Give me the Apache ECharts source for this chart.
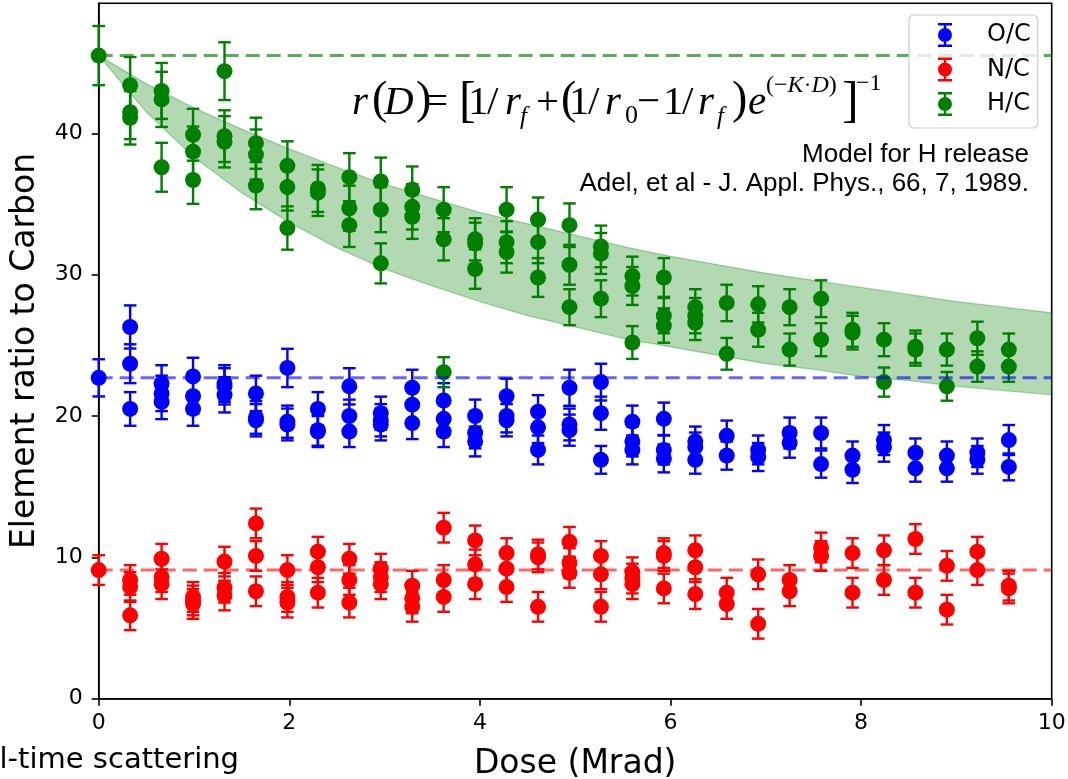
<!DOCTYPE html>
<html><head><meta charset="utf-8">
<script src="https://cdn.jsdelivr.net/npm/echarts@6/dist/echarts.min.js"></script>
<style>html,body{margin:0;padding:0;background:#fff}#c{width:1068px;height:779px}</style>
</head><body><div id="c"></div>
<script>
// ---- data ----
const doses = [0, 0.33, 0.66, 0.99, 1.32, 1.65, 1.98, 2.30, 2.63, 2.96, 3.29, 3.62, 3.95, 4.28, 4.61,
               4.94, 5.27, 5.60, 5.93, 6.26, 6.59, 6.92, 7.25, 7.58, 7.91, 8.24, 8.57, 8.90, 9.22, 9.55];

const ocValues = [
  [22.7], [26.3, 23.7, 20.5], [22.3, 21.6, 21.0], [22.8, 21.4, 20.5], [22.3, 22.1, 21.5],
  [21.6, 19.9, 19.7], [23.4, 19.6, 19.4], [20.5, 19.0, 18.9], [22.1, 20.0, 18.9], [20.2, 19.7, 19.4],
  [22.0, 20.8, 19.5], [21.1, 19.8, 18.9], [20.0, 18.8, 18.2], [21.4, 20.0, 19.7], [20.3, 19.2, 17.6],
  [22.0, 19.4, 19.0], [22.4, 20.2, 16.9], [19.6, 18.2, 17.6], [19.8, 17.6, 17.0], [18.2, 17.8, 16.9],
  [18.6, 17.2], [17.6, 17.1], [18.8, 18.1], [18.8, 16.6], [17.2, 16.2],
  [18.3, 17.8], [17.4, 16.3], [17.2, 16.3], [17.4, 16.9], [18.3, 16.4]
];
const ncValues = [
  [9.1], [8.4, 7.9, 5.9], [9.9, 8.6, 8.1], [7.2, 6.95, 6.7], [9.7, 7.85, 7.3],
  [12.4, 10.1, 7.6], [9.1, 7.2, 6.8], [10.4, 9.3, 7.5], [9.9, 8.4, 6.8], [9.2, 8.6, 8.1],
  [8.0, 7.1, 6.5], [12.1, 8.4, 7.2], [11.2, 9.5, 8.1], [10.3, 9.2, 7.9], [10.2, 10.0, 6.5],
  [11.1, 9.6, 8.9], [10.1, 8.8, 6.5], [8.95, 8.5, 8.1], [10.3, 10.1, 7.8], [10.5, 9.3, 7.4],
  [7.5, 6.7], [8.8, 5.3], [8.4, 7.6], [10.7, 10.1], [10.3, 7.5],
  [10.5, 8.4], [11.3, 7.5], [9.4, 6.3], [10.4, 9.1], [8.0, 7.8]
];
const hcValues = [
  [45.5], [43.4, 41.5, 41.1], [43.0, 42.4, 37.6], [39.9, 38.7, 36.7], [44.4, 39.8, 39.4],
  [39.3, 38.5, 36.3], [37.7, 36.2, 33.3], [36.1, 35.8], [36.9, 34.7, 33.5], [36.6, 34.6, 30.8],
  [36.0, 34.8, 34.1], [34.6, 32.5, 23.1], [32.5, 32.2, 30.4], [34.6, 32.3, 31.6], [33.9, 32.3, 29.8],
  [33.5, 30.7, 27.7], [32.0, 31.5, 28.3], [29.9, 29.2, 25.2], [29.8, 27.1, 26.4], [27.7, 27.1, 26.6],
  [28.0, 24.4], [27.9, 26.1], [27.7, 24.7], [28.3, 25.4], [26.1, 25.9],
  [25.4, 22.4], [24.9, 24.7], [24.7, 22.1], [25.5, 23.5], [24.7, 23.5]
];
// error bar half-heights (read as approximate fractions / absolute sizes)
const ocRelErr = 0.058;
const hcRelErr = 0.046;
const ncAbsErr = 1.05;

// reference (initial) levels, dashed lines
const ocRef = 22.7, ncRef = 9.1, hcRef = 45.5;

// model band
const bandDoses = [0, 0.5, 1, 1.5, 2, 2.5, 3, 3.5, 4, 4.5, 5, 5.5, 6, 6.5, 7, 7.5, 8, 8.5, 9, 9.5, 10];
const bandUpper = [45.5, 43.5, 41.8, 40.3, 38.9, 37.6, 36.4, 35.4, 34.4, 33.6, 32.8, 32.0, 31.3, 30.7, 30.1, 29.6, 29.1, 28.6, 28.1, 27.7, 27.3];
const bandLower = [45.5, 41.5, 38.3, 35.8, 33.7, 31.9, 30.4, 29.2, 28.1, 27.1, 26.3, 25.5, 24.9, 24.3, 23.7, 23.3, 22.8, 22.5, 22.1, 21.8, 21.5];

const seriesNames = ['O/C', 'N/C', 'H/C'];
const xTickStep = 2, yTickStep = 10;
const xMax = 10, yMax = 49.2;

// ---- build ----
const COL = {'O/C': '#0000ff', 'N/C': '#ff0000', 'H/C': '#008000'};
function flatten(values, errOf) {
  const out = [];
  values.forEach((arr, i) => arr.forEach(v => out.push([doses[i], v, errOf(v)])));
  return out;
}
const sets = {
  'O/C': flatten(ocValues, v => v * ocRelErr),
  'N/C': flatten(ncValues, v => ncAbsErr),
  'H/C': flatten(hcValues, v => v * hcRelErr)
};
function errRenderer(color) {
  return function (params, api) {
    const x = api.value(0), y = api.value(1), e = api.value(2);
    const t = api.coord([x, y + e]), b = api.coord([x, y - e]);
    const cw = 6.3;
    const st = {stroke: color, lineWidth: 2.4, fill: null};
    return {type: 'group', children: [
      {type: 'line', shape: {x1: t[0], y1: t[1], x2: b[0], y2: b[1]}, style: st},
      {type: 'line', shape: {x1: t[0] - cw, y1: t[1], x2: t[0] + cw, y2: t[1]}, style: st},
      {type: 'line', shape: {x1: b[0] - cw, y1: b[1], x2: b[0] + cw, y2: b[1]}, style: st}
    ]};
  };
}
const series = [];
// model band as one polygon through the axis scale
series.push({
  type: 'custom', name: 'band', silent: true, z: 1, data: [[0, bandLower[0]]], encode: {x: 0, y: 1},
  renderItem: function (params, api) {
    const up = bandDoses.map((d, i) => api.coord([d, bandUpper[i]]));
    const lo = bandDoses.map((d, i) => api.coord([d, bandLower[i]])).reverse();
    return {type: 'polygon', shape: {points: up.concat(lo)},
            style: {fill: 'rgba(0,128,0,0.3)', stroke: 'rgba(0,128,0,0.3)', lineWidth: 1.3}};
  }
});
seriesNames.forEach(n => {
  series.push({
    type: 'custom', name: n, renderItem: errRenderer(COL[n]), data: sets[n],
    encode: {x: 0, y: 1}, itemStyle: {color: COL[n]}, silent: true, z: 2
  });
  series.push({
    type: 'scatter', name: n, data: sets[n].map(p => [p[0], p[1]]), symbol: 'circle', symbolSize: 16,
    itemStyle: {color: COL[n], opacity: 1}, silent: true, z: 2
  });
});
const refs = [[ocRef, 'rgba(0,0,255,0.6)'], [ncRef, 'rgba(255,0,0,0.6)'], [hcRef, 'rgba(0,128,0,0.65)']];
refs.forEach(([v, c]) => series.push({
  type: 'line', data: [[0, v], [xMax, v]], symbol: 'none', silent: true,
  lineStyle: {color: c, width: 3, type: [14, 7]}, z: 3
}));

const icon = 'path://M0,0H14V2.4H8.2V21.6H14V24H0V21.6H5.8V2.4H0Z M7,5A7,7,0,1,1,6.99,5Z';
const F = 'DejaVu Sans';
const serif = 'Liberation Serif';

// formula glyphs: [text, x, middle-y, size, italic]
const formulaTokens = [
  ['r', 352, 103, 41, true], ['(', 372, 101, 46, false], ['D', 384, 103, 41, true], [')', 416, 101, 46, false],
  ['=', 425, 103, 41, false], ['[', 459, 103, 50, false], ['1', 468, 103, 41, false], ['/', 487, 103, 41, false],
  ['r', 505, 103, 41, true], ['f', 520, 117, 25, true], ['+', 536, 103, 41, false], ['(', 561, 101, 46, false],
  ['1', 569, 103, 41, false], ['/', 588, 103, 41, false], ['r', 605, 103, 41, true], ['0', 625, 116, 26, false],
  ['−', 637, 103, 41, false], ['1', 663, 103, 41, false], ['/', 682, 103, 41, false], ['r', 698, 103, 41, true],
  ['f', 717, 117, 25, true], [')', 732, 101, 46, false], ['e', 748, 103, 41, true], [']', 842, 103, 50, false],
  ['−1', 856, 84, 24, false]
];
const graphics = formulaTokens.map(([t, x, y, s, it]) => ({
  type: 'text', x: x, y: y, z: 20, silent: true,
  style: {text: t, font: (it ? 'italic ' : '') + s + 'px "' + serif + '"', fill: '#000',
          textAlign: 'left', textVerticalAlign: 'middle'}
}));
graphics.push({type: 'text', x: 766, y: 86, z: 20, silent: true, style: {
  text: '{a|(−}{b|K}{a|·}{b|D}{a|)}', textAlign: 'left', textVerticalAlign: 'middle',
  rich: {a: {fontFamily: serif, fontSize: 24, fill: '#000'},
         b: {fontFamily: serif, fontSize: 24, fontStyle: 'italic', fill: '#000'}}
}});
graphics.push(
  {type: 'text', x: 1029, y: 155, z: 20, silent: true, style: {text: 'Model for H release',
    font: '26px "Liberation Sans"', fill: '#000', textAlign: 'right', textVerticalAlign: 'middle'}},
  {type: 'text', x: 1029, y: 184, z: 20, silent: true, style: {text: 'Adel, et al - J. Appl. Phys., 66, 7, 1989.',
    font: '26px "Liberation Sans"', fill: '#000', textAlign: 'right', textVerticalAlign: 'middle'}},
  {type: 'text', x: 239, y: 760, z: 20, silent: true, style: {text: 'Real-time scattering',
    font: '29px "DejaVu Sans"', fill: '#000', textAlign: 'right', textVerticalAlign: 'middle'}}
);

const option = {
  animation: false,
  backgroundColor: '#fff',
  grid: {left: 98.7, right: 16.3, top: 3.3, bottom: 80.3, show: true, borderColor: '#000', borderWidth: 1.6,
         backgroundColor: 'transparent', containLabel: false, outerBoundsMode: 'none'},
  xAxis: {
    type: 'value', min: 0, max: xMax, interval: xTickStep,
    axisLine: {show: true, lineStyle: {color: '#000', width: 1.6}},
    axisTick: {show: true, inside: false, length: 7, lineStyle: {color: '#000', width: 1.6}},
    axisLabel: {fontSize: 22, fontFamily: F, color: '#000', margin: 14},
    splitLine: {show: false},
    name: 'Dose (Mrad)', nameLocation: 'middle', nameGap: 49,
    nameTextStyle: {fontSize: 33, fontFamily: F, color: '#000'}
  },
  yAxis: {
    type: 'value', min: 0, max: yMax, interval: yTickStep,
    axisLine: {show: true, lineStyle: {color: '#000', width: 1.6}},
    axisTick: {show: true, inside: false, length: 7, lineStyle: {color: '#000', width: 1.6}},
    axisLabel: {fontSize: 22, fontFamily: F, color: '#000', margin: 16, showMaxLabel: false},
    splitLine: {show: false},
    name: 'Element ratio to Carbon', nameLocation: 'middle', nameGap: 57, nameRotate: 90,
    nameTextStyle: {fontSize: 33, fontFamily: F, color: '#000'}
  },
  legend: {
    data: seriesNames.map(n => ({name: n, icon: icon})),
    orient: 'vertical', left: 909, top: 15, itemWidth: 14, itemHeight: 24, itemGap: 10.5,
    padding: [8, 7, 12, 29], backgroundColor: 'rgba(255,255,255,0.8)',
    borderColor: '#cccccc', borderWidth: 1.2, borderRadius: 5, selectedMode: false,
    formatter: name => '{s|}{t|' + name + '}',
    textStyle: {fontSize: 24, fontFamily: F, color: '#000',
      rich: {s: {width: 30}, t: {fontSize: 24, fontFamily: F, color: '#000'}}}, z: 10
  },
  graphic: graphics,
  series: series
};
const chart = echarts.init(document.getElementById('c'), null, {renderer: 'canvas'});
chart.setOption(option);
</script></body></html>
